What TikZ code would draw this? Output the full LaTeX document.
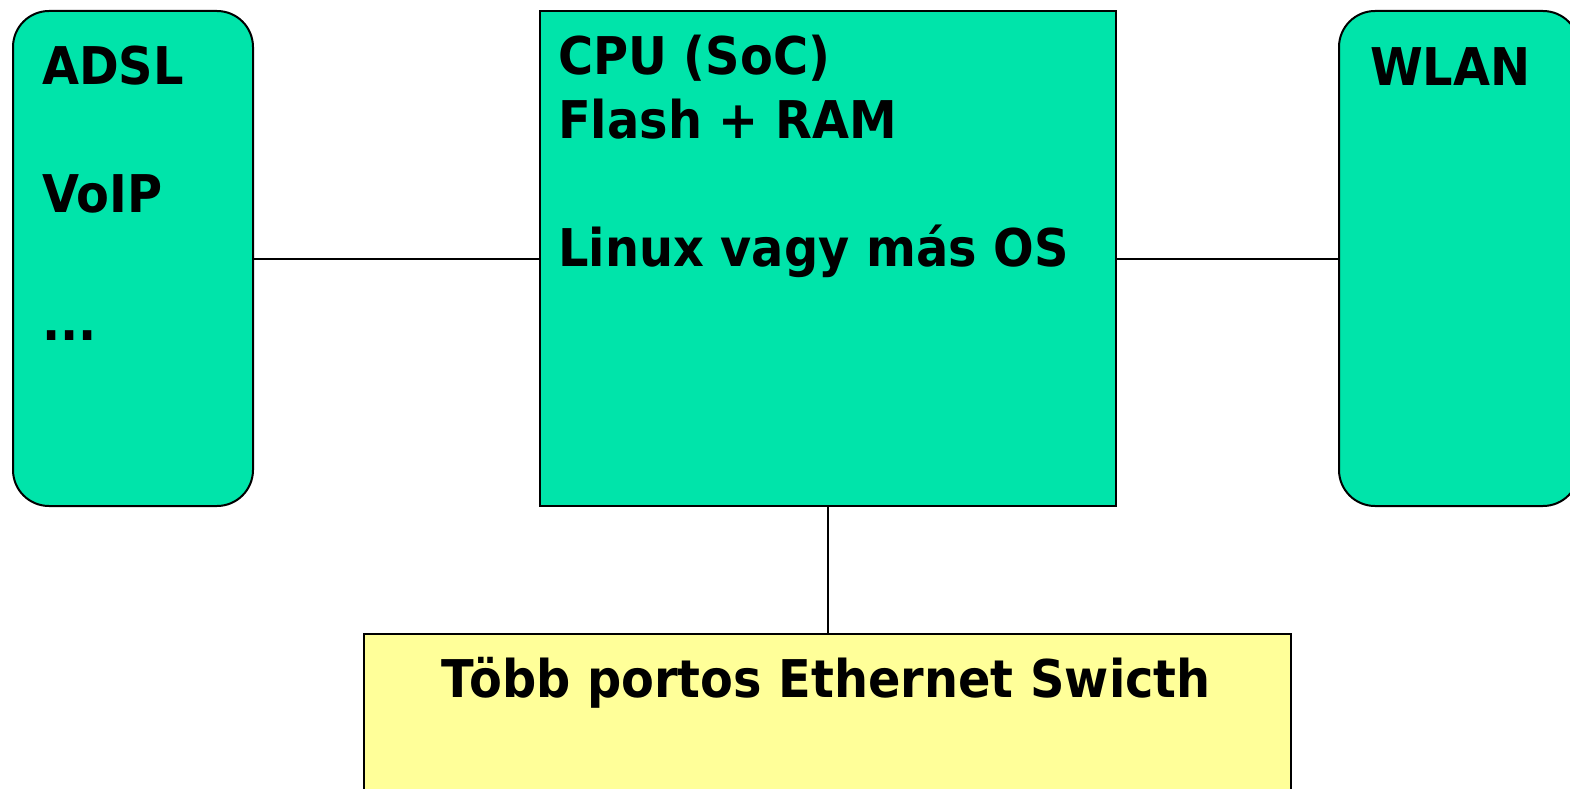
\documentclass[tikz,border=0pt]{standalone}
\usepackage{fontspec}
\setmainfont{DejaVu Sans}[FakeStretch=0.92]
\usetikzlibrary{positioning}
\definecolor{boardgreen}{RGB}{0,228,170}
\definecolor{switchyellow}{RGB}{255,255,153}

\begin{document}
\begin{tikzpicture}[x=1pt, y=-1pt,
                    chip/.style = {
                        draw=black, line width=2pt,
                        fill=boardgreen,
                        rounded corners=36pt,
                        minimum width=240pt, minimum height=495pt,
                        anchor=north west, inner sep=0pt
                      },
                    soc/.style = {
                        chip, rounded corners=0pt,
                        minimum width=576pt
                      },
                    switchbox/.style = {
                        draw=black, line width=2pt,
                        fill=switchyellow,
                        minimum width=927pt, minimum height=200pt,
                        anchor=north west, inner sep=0pt
                      },
                    label/.style = {
                        font=\fontsize{52}{64}\selectfont\bfseries,
                        align=left, inner sep=0pt, anchor=base west
                      },
                    bus/.style = {line width=2pt}]
    \useasboundingbox (0,0) rectangle (1570,789);

    % boards
    \node[chip] (adsl) at (12,10) {};
    \node[soc] (cpu) at (539,10) {};
    \node[chip] (wlan) at (1338,10) {};
    \node[switchbox] (switch) at (363,633) {};

    % texts (base = last line)
    \node[label] (adsltext) at (42,340) {ADSL\\[64pt]VoIP\\[64pt]...};
    \node[label] (cputext) at (558,266) {CPU (SoC)\\Flash + RAM\\[64pt]Linux vagy más OS};
    \node[label] (wlantext) at (1370,86) {WLAN};
    \node[label, anchor=base] (switchtext) at (826,697) {Több portos Ethernet Swicth};

    % connections
    \draw[bus] (adsl.east) -- (cpu.west);
    \draw[bus] (cpu.east) -- (wlan.west);
    \draw[bus] (cpu.south) -- (switch.north -| cpu.south);
  \end{tikzpicture}
\end{document}
